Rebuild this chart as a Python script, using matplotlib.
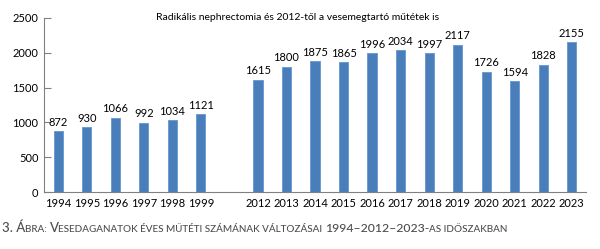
import matplotlib
matplotlib.use("Agg")
import matplotlib.pyplot as plt

years = ["1994", "1995", "1996", "1997", "1998", "1999", "",
         "2012", "2013", "2014", "2015", "2016", "2017", "2018",
         "2019", "2020", "2021", "2022", "2023"]
values = [872, 930, 1066, 992, 1034, 1121, None,
          1615, 1800, 1875, 1865, 1996, 2034, 1997,
          2117, 1726, 1594, 1828, 2155]
yticks = [0, 500, 1000, 1500, 2000, 2500]
title = "Radikális nephrectomia és 2012-től a vesemegtartó műtétek is"

FONT = "Lato"
plt.rcParams['font.family'] = [FONT, 'DejaVu Sans']

fig = plt.figure(figsize=(6.0, 2.49), dpi=100)
ax = fig.add_axes([44/600, 57/249, 542/600, 174/249])

xs = list(range(len(years)))
bx = [x for x, v in zip(xs, values) if v is not None]
bv = [v for v in values if v is not None]
ax.bar(bx, bv, width=0.32, color="#4A7EBB", edgecolor="#6E9BD2", linewidth=0.7)
for x, v in zip(bx, bv):
    ax.annotate(str(v), (x, v), xytext=(0, 2.5), textcoords="offset points",
                ha="center", va="bottom", fontsize=8, color="black")

ax.set_xlim(-0.5, len(years) - 0.5)
ax.set_ylim(0, 2500)
ax.set_xticks(xs)
ax.set_xticklabels(years, fontsize=8)
ax.set_yticks(yticks)
ax.set_yticklabels([str(t) for t in yticks], fontsize=8)
ax.tick_params(axis="x", length=0, pad=4)
ax.tick_params(axis="y", direction="in", length=5, color="#808080", pad=4)
for s in ["top", "right"]:
    ax.spines[s].set_visible(False)
for s in ["left", "bottom"]:
    ax.spines[s].set_color("#808080")
    ax.spines[s].set_linewidth(0.8)

fig.text(298/600, 1 - 18/249, title, ha="center", va="center", fontsize=7.5)

# caption in small caps
parts = [("3. Á", 9.5), ("BRA: ", 7.1), ("V", 9.5),
         ("ESEDAGANATOK ÉVES MŰTÉTI SZÁMÁNAK VÁLTOZÁSAI ", 7.1),
         ("1994–2012–2023-", 8.8), ("AS IDŐSZAKBAN", 7.1)]
fig.canvas.draw()
r = fig.canvas.get_renderer()
xpix = 2
ybase = 1 - 232/249
for txt, fs in parts:
    t = fig.text(xpix/600, ybase, txt, ha="left", va="baseline", fontsize=fs,
                 color="#4D4D4D", fontweight="medium")
    bb = t.get_window_extent(renderer=r)
    xpix += bb.width

fig.savefig("out.png", dpi=100)
